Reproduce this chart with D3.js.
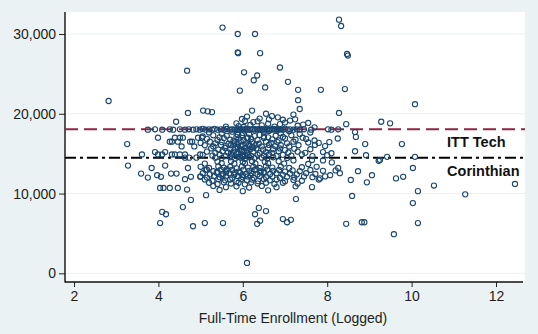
<!DOCTYPE html>
<html lang="en">
<head>
<meta charset="UTF-8">
<title>Tuition vs enrollment</title>
<script src="https://d3js.org/d3.v7.min.js"></script>
<style>
  body { margin: 0; background: #eaf2f3; }
  text { font-family: "Liberation Sans", Arial, sans-serif; }
</style>
</head>
<body>
<svg width="538" height="334" id="chart"></svg>
<script>
// tick labels
var xTicks = [2, 4, 6, 8, 10, 12];
var yTicks = [0, 10000, 20000, 30000];

// reference lines (tuition of the two chains)
var refNames = ["ITT Tech", "Corinthian"];
var refValues = [18050, 14500];

// outlying / sparse schools: [log enrollment, tuition]
var sparse = [
  [2.82,21600],[4.68,25400],[5.52,30800],[5.88,30000],[6.29,30000],[5.88,27700],[5.89,27600],
  [6.41,27600],[6.03,25200],[6.88,25800],[6.34,24800],[6.26,24200],[6.53,23300],[5.93,22900],
  [7.07,24000],[7.31,23000],[7.85,23000],[8.42,23100],[7.31,21700],[8.28,31800],[8.33,31000],
  [8.47,27500],[8.49,27300],[10.08,21200],[4.70,20100],[5.06,20400],[5.17,20300],[5.27,20200],
  [4.42,19000],[8.28,20100],[8.45,18700],[9.28,19000],[9.49,18800],[9.77,16200],[8.66,17700],
  [8.68,17100],[8.25,16900],[8.90,16200],[8.66,15300],[8.92,14800],[9.42,14600],[9.22,14100],
  [9.25,14200],[10.08,14600],[10.03,13200],[9.80,12100],[9.63,11900],[9.06,12300],[8.94,11400],
  [8.73,12800],[8.56,11700],[10.53,11000],[10.15,10300],[11.27,9900],[12.45,11200],[10.03,8800],
  [10.15,6300],[9.58,4900],[8.82,6400],[8.88,6400],[8.45,6200],[8.59,9700],[7.26,9300],
  [6.95,6800],[7.05,6400],[7.14,6700],[6.38,8200],[6.29,7400],[6.55,7800],[6.41,6600],
  [6.34,6200],[6.10,1300],[5.53,6300],[5.13,9800],[5.10,6300],[4.82,5900],[4.77,9200],
  [4.58,8300],[4.09,7700],[4.18,7400],[4.04,6300],
  [3.26,16200],[3.28,13500],[3.61,14900],[3.59,12500],[3.84,13200],[3.75,12000],[3.97,12300],
  [4.06,12100],[3.92,15200],[3.99,14900],[3.99,17000],[4.16,13500],[4.04,10700],[4.12,10700],
  [4.27,10700],[4.30,12500],[4.43,12500],[4.46,10700],[4.63,11800],[4.77,12100],[4.68,10500],
  [4.09,14900],[4.16,15200],[4.27,16500],[4.32,16500],[4.32,14900],[4.39,14900],[4.39,17000],
  [4.46,16500],[4.51,17000],[4.51,14900],[4.58,17000],[4.63,14900],[4.75,16500],[4.80,16500],
  [4.73,14500],[4.63,14500],[4.90,14500],[4.94,17000],[4.99,14900],[4.99,12100],[5.15,13000],
  [4.55,15900],[4.85,15900],[5.03,17000],[4.70,13200]
];

// the ITT Tech campuses sitting on the reference line
var ittBand = [
  [3.75,18000],[3.92,18050],[4.09,18000],[4.27,18050],[4.35,18000],[4.51,18050],[4.63,18000],
  [4.72,18050],[4.82,18000],[4.90,18050],[4.98,18000],[5.05,18100],[5.12,18000],[5.20,18050],
  [5.27,18000],[5.33,18100],[5.40,18000],[5.48,18050],[5.55,18000],[5.62,18100],[5.70,18000],
  [5.75,18050],[5.80,18000],[5.85,18050],[5.89,18000],[5.93,18100],[5.97,18000],[6.01,18050],
  [6.05,18000],[6.09,18100],[6.13,18000],[6.17,18050],[6.21,18000],[6.25,18100],[6.29,18000],
  [6.33,18050],[6.37,18000],[6.41,18100],[6.45,18000],[6.49,18050],[6.53,18000],[6.57,18100],
  [6.61,18000],[6.65,18050],[6.69,18000],[6.73,18100],[6.77,18000],[6.81,18050],[6.85,18000],
  [6.90,18050],[6.95,18000],[7.00,18100],[7.06,18000],[7.12,18050],[7.20,18000],[7.28,18050],
  [7.35,18000],[7.45,18050],[7.62,18000],[8.02,18050],[8.10,18000],[8.26,18050]
];

// the main body of schools
var cluster = [
  [6.10,19650],[6.69,19700],[6.83,19550],[6.40,19400],[6.55,20000],[7.35,20600],[7.20,19900],
  [6.05,19100],[6.95,19250],[7.12,19150],[7.24,19300],[6.35,19050],[5.98,19350],[6.22,20400],[6.62,19300],
  [5.85,18800],[6.25,18950],[6.60,18750],[7.43,18650],[7.00,18900],[7.55,18850],[6.18,18600],[6.88,18700],
  [5.90,18450],[6.45,18550],[6.75,18400],[7.30,18500],[7.70,18300],[6.02,18350],[5.60,18400],
  [5.20,17650],[5.50,17500],[5.75,17750],[6.00,17600],[6.15,17450],[6.50,17700],[6.90,17550],[7.10,17800],
  [7.35,17450],[7.60,17650],[5.88,17350],[6.62,17850],
  [5.05,17150],[5.30,17300],[5.45,17050],[5.62,17250],[5.85,17100],[5.98,17300],[6.12,17000],[6.28,17200],
  [6.40,17350],[6.60,17050],[6.78,17250],[6.95,17100],[7.15,17300],[7.42,17000],[6.50,17150],
  [5.15,16850],[5.40,16700],[5.55,16950],[5.70,16750],[5.90,16900],[6.02,16650],[6.20,16850],[6.35,16700],
  [6.50,16950],[6.70,16800],[6.85,16650],[7.00,16900],[7.25,16750],[7.50,16850],[7.70,16650],[5.78,16600],[6.10,16950],
  [5.00,16350],[5.22,16500],[5.35,16300],[5.50,16450],[5.66,16250],[5.80,16400],[5.95,16550],[6.08,16300],
  [6.22,16450],[6.38,16250],[6.55,16500],[6.68,16350],[6.82,16450],[7.05,16300],[7.20,16500],[7.55,16400],
  [7.80,16350],[8.05,16450],[5.88,16200],[6.15,16150],
  [5.10,16050],[5.30,15900],[5.48,16100],[5.60,15950],[5.72,16050],[5.88,15850],[6.00,16100],[6.15,15950],
  [6.30,16050],[6.45,15900],[6.62,16100],[6.76,15950],[6.90,16050],[7.10,15900],[7.32,16050],[7.71,16100],
  [7.95,15950],[5.95,15950],[6.22,15800],[5.80,16150],
  [5.25,15650],[5.42,15500],[5.58,15700],[5.70,15550],[5.82,15650],[5.95,15500],[6.05,15700],[6.18,15550],
  [6.32,15650],[6.48,15500],[6.60,15700],[6.72,15550],[6.88,15650],[7.00,15450],[7.22,15600],[7.60,15550],
  [5.88,15750],[6.10,15400],[6.25,15800],
  [5.15,15250],[5.35,15100],[5.52,15300],[5.65,15150],[5.78,15250],[5.90,15050],[6.02,15300],[6.10,15150],
  [6.25,15250],[6.40,15050],[6.55,15200],[6.70,15100],[6.85,15300],[7.08,15150],[7.30,15250],[7.48,15100],
  [7.90,15200],[8.10,15050],[5.72,15000],[5.98,15400],
  [5.05,14850],[5.28,14750],[5.45,14900],[5.60,14700],[5.75,14850],[5.85,14950],[5.98,14750],[6.12,14900],
  [6.20,14700],[6.35,14850],[6.50,14750],[6.62,14900],[6.80,14700],[6.95,14850],[7.15,14750],[7.40,14900],
  [7.65,14700],[8.00,14800],[5.92,14650],[6.05,14800],
  [5.50,14450],[5.70,14550],[5.82,14400],[5.95,14500],[6.05,14350],[6.15,14550],[6.28,14450],[6.45,14500],
  [6.58,14400],[6.72,14550],[7.05,14450],[5.35,14500],[5.88,14600],[6.00,14600],
  [5.40,14000],[5.72,14050],[6.00,13950],[6.22,14050],[6.52,14000],[6.85,14050],[7.20,14150],[7.64,14200],[7.90,14150],
  [5.10,13750],[5.50,13800],[5.80,13750],[6.05,13800],[6.30,13750],[6.60,13800],[6.98,13750],[7.55,13700],[8.11,13900],
  [5.00,13350],[5.20,13200],[5.42,13400],[5.55,13250],[5.70,13350],[5.85,13150],[5.98,13400],[6.12,13250],
  [6.25,13350],[6.40,13200],[6.55,13400],[6.70,13250],[6.90,13350],[7.10,13200],[7.40,13300],[7.75,13350],
  [8.26,13200],[5.62,13050],[6.32,13050],
  [5.12,12950],[5.30,12800],[5.48,13000],[5.62,12850],[5.75,12950],[5.90,12750],[6.02,13000],[6.15,12850],
  [6.28,12950],[6.42,12800],[6.58,13000],[6.72,12850],[6.86,12950],[7.00,12750],[7.18,12900],[7.35,12800],
  [7.60,12950],[7.90,12850],[8.20,12900],[5.40,12700],[6.50,12700],[5.82,12650],
  [5.05,12550],[5.22,12400],[5.38,12600],[5.52,12450],[5.68,12550],[5.80,12350],[5.94,12600],[6.08,12450],
  [6.20,12550],[6.35,12400],[6.50,12600],[6.65,12450],[6.80,12550],[6.95,12350],[7.12,12500],[7.28,12400],
  [7.50,12550],[7.72,12450],[8.07,12300],[8.30,12550],[5.60,12650],[6.00,12300],[6.42,12650],
  [5.00,12150],[5.15,12000],[5.32,12200],[5.45,12050],[5.60,12150],[5.75,11950],[5.88,12200],[6.00,12050],
  [6.12,12150],[6.26,11950],[6.40,12200],[6.55,12050],[6.70,12150],[6.88,11950],[7.05,12100],[7.22,12000],
  [7.45,12150],[7.65,12050],[7.83,11900],[7.95,12150],[5.52,12250],[6.18,12250],
  [5.10,11750],[5.28,11600],[5.42,11800],[5.58,11650],[5.70,11750],[5.85,11550],[5.96,11800],[6.10,11650],
  [6.22,11750],[6.36,11550],[6.50,11800],[6.64,11650],[6.80,11750],[7.00,11550],[7.20,11700],[7.40,11600],[7.80,11750],
  [5.20,11350],[5.40,11200],[5.55,11400],[5.72,11250],[5.90,11350],[6.05,11150],[6.20,11400],[6.35,11250],
  [6.55,11350],[6.75,11200],[6.95,11350],[7.30,11250],
  [5.30,10950],[5.60,10800],[5.85,10900],[6.15,10750],[6.45,10950],[6.80,10800],[7.25,10900],[7.64,10800],
  [5.45,10450],[6.00,10300],[6.60,10400]
];

var svg = d3.select("#chart"),
    plot = { left: 65, right: 525, top: 12, bottom: 282 };

var x = d3.scaleLinear().domain([2, 12]).range([74, 496]);
var y = d3.scaleLinear().domain([0, 30000]).range([273.3, 34]);

var points = sparse.concat(ittBand, cluster);

// white plot region
svg.append("rect")
  .attr("x", plot.left).attr("y", plot.top)
  .attr("width", plot.right - plot.left).attr("height", plot.bottom - plot.top)
  .attr("fill", "#ffffff");

// horizontal grid
svg.append("g").selectAll("line")
  .data(yTicks)
  .enter().append("line")
  .attr("x1", plot.left).attr("x2", plot.right)
  .attr("y1", function (d) { return y(d); }).attr("y2", function (d) { return y(d); })
  .attr("stroke", "#eaf2f3").attr("stroke-width", 1);

// y axis
var yAxis = svg.append("g")
  .attr("transform", "translate(" + plot.left + ",0)")
  .call(d3.axisLeft(y).tickValues(yTicks).tickFormat(d3.format(",")).tickSize(6).tickSizeOuter(0).tickPadding(3));
yAxis.select(".domain").remove();
yAxis.selectAll("text").attr("font-size", 14).attr("fill", "#1e1e1e").style("font-family", "Liberation Sans, Arial, sans-serif");
yAxis.selectAll("line").attr("stroke", "#222");

// x axis
var xAxis = svg.append("g")
  .attr("transform", "translate(0," + plot.bottom + ")")
  .call(d3.axisBottom(x).tickValues(xTicks).tickSize(5).tickSizeOuter(0).tickPadding(4));
xAxis.select(".domain").remove();
xAxis.selectAll("text").attr("font-size", 14).attr("fill", "#1e1e1e").style("font-family", "Liberation Sans, Arial, sans-serif");
xAxis.selectAll("line").attr("stroke", "#222");

// axis lines
svg.append("line")
  .attr("x1", plot.left).attr("x2", plot.left)
  .attr("y1", plot.top).attr("y2", plot.bottom + 0.5)
  .attr("stroke", "#111").attr("stroke-width", 1.4);
svg.append("line")
  .attr("x1", plot.left).attr("x2", plot.right - 2)
  .attr("y1", plot.bottom).attr("y2", plot.bottom)
  .attr("stroke", "#111").attr("stroke-width", 1.4);

// reference lines, under the markers
svg.append("line")
  .attr("x1", plot.left).attr("x2", plot.right)
  .attr("y1", y(refValues[0])).attr("y2", y(refValues[0]))
  .attr("stroke", "#8e2643").attr("stroke-width", 2)
  .attr("stroke-dasharray", "13,6");
svg.append("line")
  .attr("x1", plot.left).attr("x2", plot.right)
  .attr("y1", y(refValues[1])).attr("y2", y(refValues[1]))
  .attr("stroke", "#000").attr("stroke-width", 2)
  .attr("stroke-dasharray", "11,4,3,4");

// scatter
svg.append("g").selectAll("circle")
  .data(points)
  .enter().append("circle")
  .attr("cx", function (d) { return x(d[0]); })
  .attr("cy", function (d) { return y(d[1]); })
  .attr("r", 2.6)
  .attr("fill", "none")
  .attr("stroke", "#1a476f")
  .attr("stroke-width", 1.1);

// labels for reference lines
svg.selectAll(".ref-label")
  .data(refNames)
  .enter().append("text")
  .attr("class", "ref-label")
  .attr("x", x(10.84))
  .attr("y", function (d, i) { return y(refValues[i]) + 18; })
  .attr("font-size", 14.5)
  .attr("font-weight", "bold")
  .attr("fill", "#111")
  .text(function (d) { return d; });

// x title
svg.append("text")
  .attr("x", 293).attr("y", 323)
  .attr("text-anchor", "middle")
  .attr("font-size", 14)
  .attr("fill", "#1e1e1e")
  .text("Full-Time Enrollment (Logged)");
</script>
</body>
</html>
